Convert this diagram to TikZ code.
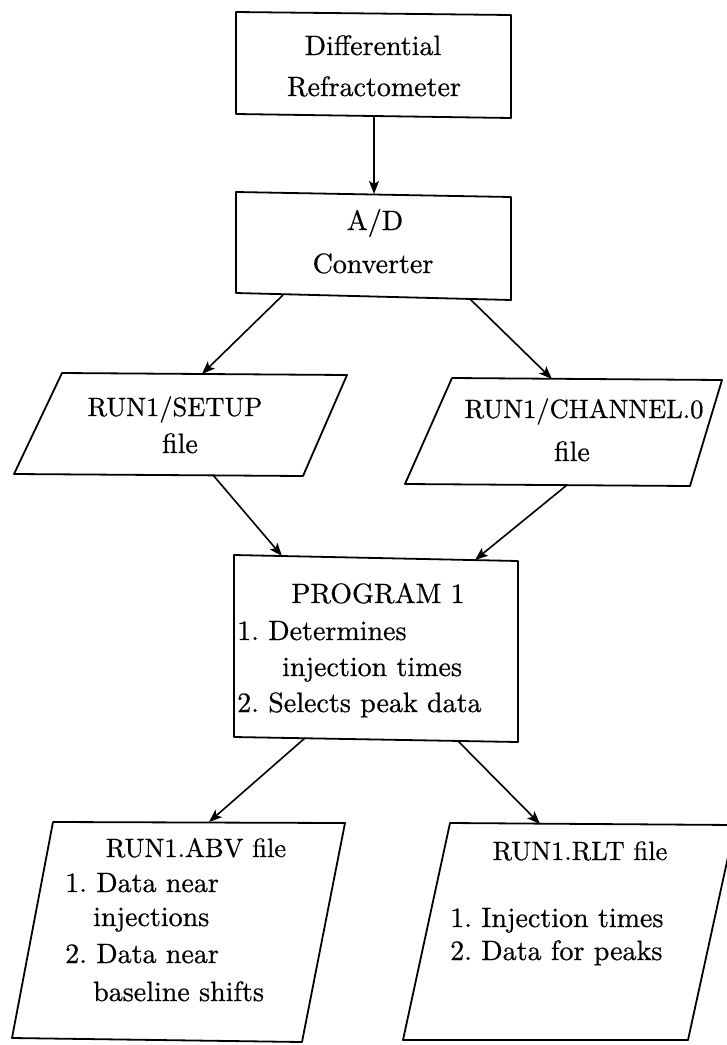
\documentclass[tikz,border=0pt]{standalone}
\usepackage{fontspec}
\setmainfont{lmroman10-regular}[Extension=.otf, FakeBold=0.6]
\usetikzlibrary{arrows.meta}
\frenchspacing
\begin{document}
\begin{tikzpicture}[x=1pt,y=-1pt,
  shapeline/.style={line width=1.8pt, line join=round},
  conn/.style={line width=1.6pt, -{Stealth[length=13pt,width=10pt,inset=3pt]}},
  lbl/.style={inner sep=0pt, font=\fontsize{28}{32}\selectfont\frenchspacing, anchor=base},
  lbll/.style={lbl, anchor=base west},
  caps/.style={font=\fontsize{26.5}{32}\selectfont\frenchspacing}]
\useasboundingbox (0,0) rectangle (727,1045);
\clip (0,0) rectangle (727,1045);
% shapes
\draw[shapeline] (236,12) -- (511,15) -- (511,118) -- (236,114) -- cycle;
\draw[shapeline] (236,192) -- (511,197) -- (511,300) -- (236,293) -- cycle;
\draw[shapeline] (62,373) -- (347,375) -- (303,476) -- (14,474) -- cycle;
\draw[shapeline] (452,378) -- (722,380) -- (690,486) -- (405,484) -- cycle;
\draw[shapeline] (234,555) -- (518,561) -- (518,742) -- (234,737) -- cycle;
\draw[shapeline] (53,822) -- (345,823) -- (302,1042) -- (12,1038) -- cycle;
\draw[shapeline] (450,823) -- (735,825) -- (688,1040) -- (403,1040) -- cycle;
% texts
\node[lbl] (t1a) at (373,55) {Differential};
\node[lbl] (t1b) at (374,96) {Refractometer};
\node[lbl] (t2a) at (375,230) {A/D};
\node[lbl] (t2b) at (373,273) {Converter};
\node[lbl,caps] (t3a) at (175,416) {RUN1/SETUP};
\node[lbl] (t3b) at (180,453) {file};
\node[lbl,caps] (t4a) at (584,418) {RUN1/CHANNEL.0};
\node[lbl] (t4b) at (572,461) {file};
\node[lbl] (t5a) at (378,603) {PROGRAM 1};
\node[lbll] (t5b) at (237,640) {1. Determines};
\node[lbll] (t5c) at (282,676) {injection times};
\node[lbll] (t5d) at (237,712) {2. Selects peak data};
\node[lbl,caps] (t6a) at (196,857) {RUN1.ABV file};
\node[lbll] (t6b) at (65,892) {1. Data near};
\node[lbll] (t6c) at (93,926) {injections};
\node[lbll] (t6d) at (65,963) {2. Data near};
\node[lbll] (t6e) at (93,1001) {baseline shifts};
\node[lbl,caps] (t7a) at (580,860) {RUN1.RLT file};
\node[lbll] (t7b) at (450,927) {1. Injection times};
\node[lbll] (t7c) at (450,960) {2. Data for peaks};
% connector end points
\coordinate (refB) at (374,117);
\coordinate (adT) at (374,194);
\coordinate (adBL) at (283,295);
\coordinate (adBR) at (470,299);
\coordinate (setT) at (202,374);
\coordinate (chT) at (552,379);
\coordinate (setB) at (213,475);
\coordinate (chB) at (567,485);
\coordinate (prTL) at (282,556);
\coordinate (prTR) at (475,560);
\coordinate (prBL) at (305,738);
\coordinate (prBR) at (458,741);
\coordinate (abvT) at (209,822);
\coordinate (rltT) at (540,824);
% connectors
\draw[conn] (refB) -- (adT);
\draw[conn] (adBL) -- (setT);
\draw[conn] (adBR) -- (chT);
\draw[conn] (setB) -- (prTL);
\draw[conn] (chB) -- (prTR);
\draw[conn] (prBL) -- (abvT);
\draw[conn] (prBR) -- (rltT);
\end{tikzpicture}
\end{document}
